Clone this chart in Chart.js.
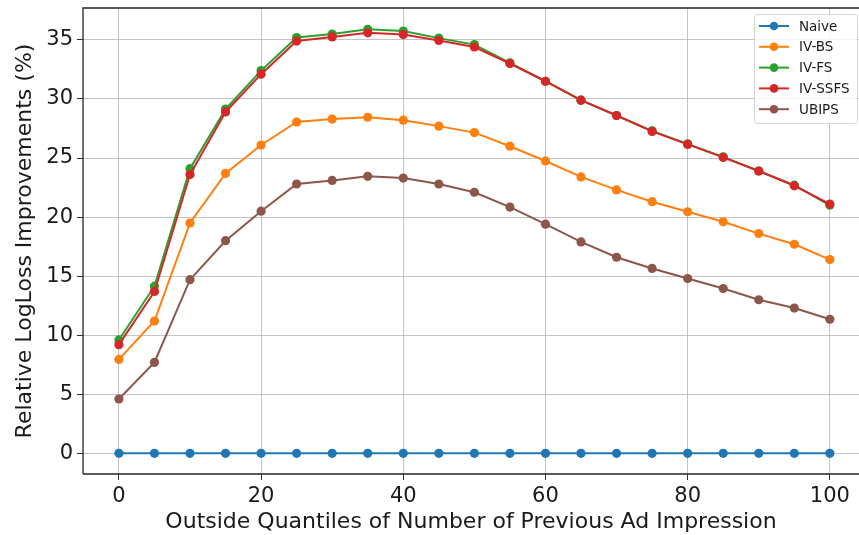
<!DOCTYPE html>
<html>
<head>
<meta charset="utf-8">
<script src="https://cdn.jsdelivr.net/npm/chart.js@4/dist/chart.umd.min.js"></script>
<style>
  html, body { margin: 0; padding: 0; background: #ffffff; }
  #wrap { width: 859px; height: 535px; position: relative; }
</style>
</head>
<body>
<div id="wrap"><canvas id="c" width="859" height="535"></canvas></div>
<script>
const quantiles = [0, 5, 10, 15, 20, 25, 30, 35, 40, 45, 50, 55, 60, 65, 70, 75, 80, 85, 90, 95, 100];
const naive  = [0, 0, 0, 0, 0, 0, 0, 0, 0, 0, 0, 0, 0, 0, 0, 0, 0, 0, 0, 0, 0];
const ivBS   = [7.95, 11.2, 19.5, 23.7, 26.1, 28.05, 28.3, 28.45, 28.2, 27.7, 27.15, 26.0, 24.75, 23.4, 22.3, 21.3, 20.45, 19.6, 18.6, 17.7, 16.4];
const ivFS   = [9.6, 14.15, 24.1, 29.15, 32.4, 35.2, 35.5, 35.9, 35.75, 35.15, 34.6, 33.05, 31.5, 29.9, 28.6, 27.3, 26.2, 25.1, 23.9, 22.7, 21.0];
const ivSSFS = [9.2, 13.7, 23.6, 28.9, 32.1, 34.9, 35.25, 35.6, 35.45, 34.95, 34.4, 33.0, 31.5, 29.9, 28.6, 27.25, 26.15, 25.05, 23.9, 22.65, 21.1];
const ubips  = [4.6, 7.7, 14.7, 18.0, 20.5, 22.8, 23.1, 23.45, 23.3, 22.8, 22.1, 20.85, 19.4, 17.9, 16.6, 15.65, 14.8, 13.95, 13.0, 12.3, 11.35];
const seriesNames = ['Naive', 'IV-BS', 'IV-FS', 'IV-SSFS', 'UBIPS'];
const seriesColors = ['#1f77b4', '#ff7f0e', '#2ca02c', '#d62728', '#8c564b'];
const xTicks = [0, 20, 40, 60, 80, 100];
const yTicks = [0, 5, 10, 15, 20, 25, 30, 35];

const allSeries = [naive, ivBS, ivFS, ivSSFS, ubips];
const datasets = allSeries.map((vals, i) => ({
  label: seriesNames[i],
  data: quantiles.map((q, k) => ({ x: q, y: vals[k] })),
  borderColor: seriesColors[i],
  backgroundColor: seriesColors[i],
  pointBackgroundColor: seriesColors[i],
  pointBorderColor: seriesColors[i],
  borderWidth: 2,
  pointRadius: 4.6,
  pointBorderWidth: 0,
  tension: 0,
  fill: false,
  order: allSeries.length - 1 - i
}));

const FONT = "'DejaVu Sans', sans-serif";

const framePlugin = {
  id: 'frame',
  afterDraw(chart) {
    const { ctx, chartArea: a } = chart;
    ctx.save();
    ctx.strokeStyle = '#222222';
    ctx.lineWidth = 1.3;
    ctx.beginPath();
    ctx.moveTo(a.left, a.bottom);
    ctx.lineTo(a.left, a.top);
    ctx.lineTo(a.right + 2, a.top);
    ctx.moveTo(a.left, a.bottom);
    ctx.lineTo(a.right + 2, a.bottom);
    ctx.stroke();
    ctx.restore();
  }
};

const legendPlugin = {
  id: 'innerLegend',
  afterDraw(chart) {
    const { ctx, chartArea: a } = chart;
    const boxW = 103, rowH = 20.8;
    const x0 = a.right - boxW - 2, y0 = a.top + 6;
    const boxH = rowH * datasets.length + 5;
    ctx.save();
    ctx.fillStyle = 'rgba(255,255,255,0.85)';
    ctx.strokeStyle = '#d6d6d6';
    ctx.lineWidth = 1;
    ctx.beginPath();
    if (ctx.roundRect) ctx.roundRect(x0 + 0.5, y0 + 0.5, boxW, boxH, 3); else ctx.rect(x0 + 0.5, y0 + 0.5, boxW, boxH);
    ctx.fill();
    ctx.stroke();
    ctx.font = "13.5px " + FONT;
    ctx.textBaseline = 'middle';
    chart.data.datasets.forEach((ds, i) => {
      const cy = y0 + 12 + i * rowH;
      ctx.strokeStyle = ds.borderColor;
      ctx.lineWidth = 2;
      ctx.beginPath();
      ctx.moveTo(x0 + 5, cy);
      ctx.lineTo(x0 + 35, cy);
      ctx.stroke();
      ctx.fillStyle = ds.borderColor;
      ctx.beginPath();
      ctx.arc(x0 + 20, cy, 4.3, 0, Math.PI * 2);
      ctx.fill();
      ctx.fillStyle = '#1a1a1a';
      ctx.fillText(ds.label, x0 + 45, cy + 1);
    });
    ctx.restore();
  }
};

new Chart(document.getElementById('c'), {
  type: 'line',
  data: { datasets },
  plugins: [framePlugin, legendPlugin],
  options: {
    responsive: false,
    animation: false,
    devicePixelRatio: 1,
    layout: { autoPadding: false, padding: { left: 0, top: 8, right: 0, bottom: 0 } },
    plugins: { legend: { display: false }, tooltip: { enabled: false } },
    scales: {
      x: {
        type: 'linear',
        min: -5.05,
        max: 104.1,
        afterBuildTicks(axis) { axis.ticks = xTicks.map(v => ({ value: v })); },
        afterFit(axis) { axis.height = 61; axis.paddingLeft = 0; axis.paddingRight = 0; },
        grid: { color: 'rgba(176,176,176,0.75)', lineWidth: 1, tickLength: 6, tickColor: '#333333', drawOnChartArea: true },
        border: { display: false },
        ticks: { color: '#1a1a1a', font: { family: FONT, size: 21 }, padding: 4, maxRotation: 0, callback: v => String(v) },
        title: { display: true, text: 'Outside Quantiles of Number of Previous Ad Impression', color: '#1a1a1a', font: { family: FONT, size: 22 }, padding: { top: 0, bottom: 0 } }
      },
      y: {
        type: 'linear',
        min: -1.75,
        max: 37.7,
        afterBuildTicks(axis) { axis.ticks = yTicks.map(v => ({ value: v })); },
        afterFit(axis) { axis.width = 83; axis.paddingTop = 0; axis.paddingBottom = 0; },
        grid: { color: 'rgba(176,176,176,0.75)', lineWidth: 1, tickLength: 6, tickColor: '#333333' },
        border: { display: false },
        ticks: { color: '#1a1a1a', font: { family: FONT, size: 21 }, padding: 4, callback: v => String(v) },
        title: { display: true, text: 'Relative LogLoss Improvements (%)', color: '#1a1a1a', font: { family: FONT, size: 22 }, padding: { top: 12, bottom: 2 } }
      }
    }
  }
});
</script>
</body>
</html>
